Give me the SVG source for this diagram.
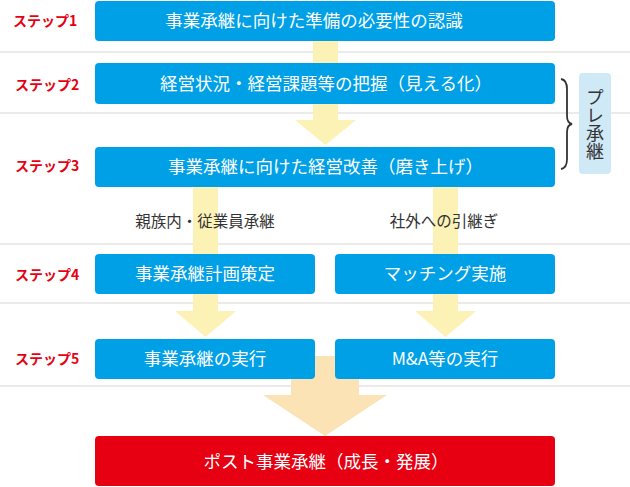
<svg xmlns="http://www.w3.org/2000/svg" width="630" height="487" viewBox="0 0 630 487">
<style>
.sep{stroke:#ebebeb;stroke-width:2}
.box{fill:#00a0e6}
.red{fill:#e60012}
.bt{font-family:"Noto Sans CJK JP","Noto Sans",sans-serif;font-size:17.5px;fill:#fff;text-anchor:middle}
.st{font-family:"Noto Sans CJK JP","Noto Sans",sans-serif;font-size:14px;font-weight:bold;fill:#e60012}
.lb{font-family:"Noto Sans CJK JP","Noto Sans",sans-serif;font-size:15.5px;fill:#333;text-anchor:middle}
.ya{fill:#fcf2b6}
.oa{fill:#fbe3b6}
</style>
<rect width="630" height="487" fill="#fff"/>
<g id="separators">
<line class="sep" x1="0" y1="52" x2="630" y2="52"/>
<line class="sep" x1="0" y1="113" x2="630" y2="113"/>
<line class="sep" x1="0" y1="244" x2="630" y2="244"/>
<line class="sep" x1="0" y1="303" x2="630" y2="303"/>
<line class="sep" x1="0" y1="386" x2="630" y2="386"/>
</g>
<g id="connectors">
<rect class="ya" x="313" y="40" width="25" height="24"/>
<polygon class="ya" points="313,104 338,104 338,120 356,120 325.5,145 295,120 313,120"/>
<rect class="ya" x="193" y="187" width="25" height="67"/>
<rect class="ya" x="433" y="187" width="25" height="67"/>
<polygon class="ya" points="193,293 218,293 218,311 236,311 205.5,337 175,311 193,311"/>
<polygon class="ya" points="433,293 458,293 458,311 476,311 445.5,337 415,311 433,311"/>
<polygon class="oa" points="291,356 359,356 359,395 387,395 325,436 263,395 291,395"/>
</g>
<g id="labels">
<text class="st" x="13" y="26">ステップ1</text>
<text class="st" x="15" y="90">ステップ2</text>
<text class="st" x="15" y="171">ステップ3</text>
<text class="st" x="15" y="280">ステップ4</text>
<text class="st" x="15" y="364">ステップ5</text>
<text class="lb" x="205" y="226.5">親族内・従業員承継</text>
<text class="lb" x="444" y="226.5">社外への引継ぎ</text>
</g>
<g id="step1"><rect class="box" x="95" y="1" width="460" height="40" rx="4"/><text class="bt" x="314" y="27">事業承継に向けた準備の必要性の認識</text></g>
<g id="step2"><rect class="box" x="95" y="63" width="460" height="41" rx="4"/><text class="bt" x="326" y="90">経営状況・経営課題等の把握（見える化）</text></g>
<g id="step3"><rect class="box" x="95" y="147" width="460" height="40" rx="4"/><text class="bt" x="325.5" y="173">事業承継に向けた経営改善（磨き上げ）</text></g>
<g id="step4a"><rect class="box" x="95" y="254" width="220" height="40" rx="4"/><text class="bt" x="205" y="280">事業承継計画策定</text></g>
<g id="step4b"><rect class="box" x="335" y="254" width="220" height="40" rx="4"/><text class="bt" x="445" y="280">マッチング実施</text></g>
<g id="step5a"><rect class="box" x="95" y="339" width="220" height="40" rx="4"/><text class="bt" x="205" y="365">事業承継の実行</text></g>
<g id="step5b"><rect class="box" x="335" y="339" width="220" height="40" rx="4"/><text class="bt" x="445" y="365">M&amp;A等の実行</text></g>
<g id="post"><rect class="red" x="95" y="436" width="460" height="50" rx="4"/><text class="bt" x="326" y="467.5">ポスト事業承継（成長・発展）</text></g>
<g id="pre">
<path d="M561,79 Q567,80 567,89 L567,116 Q567,123 572,124 Q567,125 567,132 L567,159 Q567,168 561,169" fill="none" stroke="#333" stroke-width="1.8"/>
<rect x="579" y="73" width="32" height="101" rx="4" fill="#cfe9f7"/>
<text x="595" y="88" writing-mode="tb" font-family="'Noto Sans CJK JP','Noto Sans',sans-serif" font-size="18" fill="#333">プレ承継</text>
</g>
</svg>
